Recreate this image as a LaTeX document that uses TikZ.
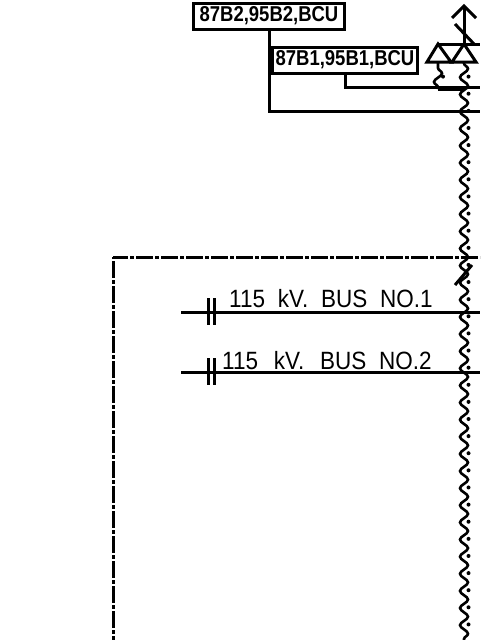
\documentclass[tikz,border=0pt]{standalone}
\usepackage{fontspec}
\setmainfont{Liberation Sans}
\newfontfamily\relayfont[FakeStretch=0.86]{Liberation Sans Bold}
\newfontfamily\busfont[FakeStretch=0.9]{Liberation Sans}
\newcommand{\busgap}{\hspace{12.8pt}}
\usetikzlibrary{positioning,
                decorations.pathmorphing}
\tikzset{
        wire/.style={line width=3pt},
        relay/.style={draw, line width=3pt, inner sep=0pt, minimum height=26pt, font=\relayfont\fontsize{21.5}{22}\selectfont},
        buslabel/.style={inner sep=0pt, font=\busfont\fontsize{25}{26}\selectfont},
        wavy/.style={line width=2.6pt, decorate, decoration={snake, segment length=17.12pt, amplitude=4pt, pre=lineto, pre length=#1}},
        zone/.style={wire, dash pattern=on 17pt off 2pt on 4pt off 2pt},
        tripdot/.style={circle, fill, inner sep=0pt, minimum size=4pt},
 }
\begin{document}
\begin{tikzpicture}[x=1pt,y=-1pt]
    \useasboundingbox (0,0) rectangle (480,640);

    \node[relay, minimum width=151pt] (bcub) at (269,16) {87B2,95B2,BCU};
    \node[relay, minimum width=145pt] (bcua) at (345,60) {87B1,95B1,BCU};
    \node[buslabel, anchor=base west] (busa) at (229,307) {115\busgap kV.\busgap BUS\busgap NO.1};
    \node[buslabel, anchor=base west] (busb) at (222,369) {115\busgap\hspace{3pt}kV.\busgap\hspace{3pt}BUS\busgap NO.2};

    \coordinate (apex) at (464,6);
    \coordinate (top) at (464,44);
    \coordinate (tipa) at (438,44);
    \coordinate (basea) at (438,62);
    \coordinate (baseb) at (464,62);
    \coordinate (joina) at (438,89);
    \coordinate (joinb) at (464,89);
    \coordinate (bottom) at (464,640);
    \coordinate (corner) at (113,257);

    % relay wiring
    \draw[wire] (bcua.south) |- (480,87);
    \draw[wire] (bcub.south) |- (480,111);
    \draw[line width=3.4pt] (joina) -- (joinb);

    % arrow and star point
    \draw[wire] (452,18) -- (apex) -- (476,18);
    \draw[wire] (apex) -- (top);
    \draw[wire] (455,24) -- (474,44);
    \draw[wire] (tipa) -- (480,44);
    \draw[wire] (tipa) -- (427,62) -- (451,62) -- cycle;
    \draw[wire] (top) -- (452,62) -- (476,62) -- cycle;

    % current transformer leads
    \draw[wavy=6pt] (basea) -- (joina);
    \draw[wavy=1.4pt] (baseb) -- (bottom);
    \node[tripdot] (dota) at (443,76.6) {};
    \foreach \y in {76.6,93.72,...,640}
        \node[tripdot] at (468.5,\y) {};

    % zone boundary
    \draw[zone, dash phase=2pt] (corner) -- (480,257);
    \draw[zone, dash phase=21pt] (corner) -- (113,640);
    \draw[wire] (455,285) -- (472,265);

    % bus bars
    \draw[wire] (181,312) -- (480,312);
    \draw[wire] (181,372) -- (480,372);
    \foreach \y in {298,358} {
        \draw[wire] (208,\y) -- ++(0,27);
        \draw[wire] (214,\y) -- ++(0,27);
    }
\end{tikzpicture}
\end{document}
